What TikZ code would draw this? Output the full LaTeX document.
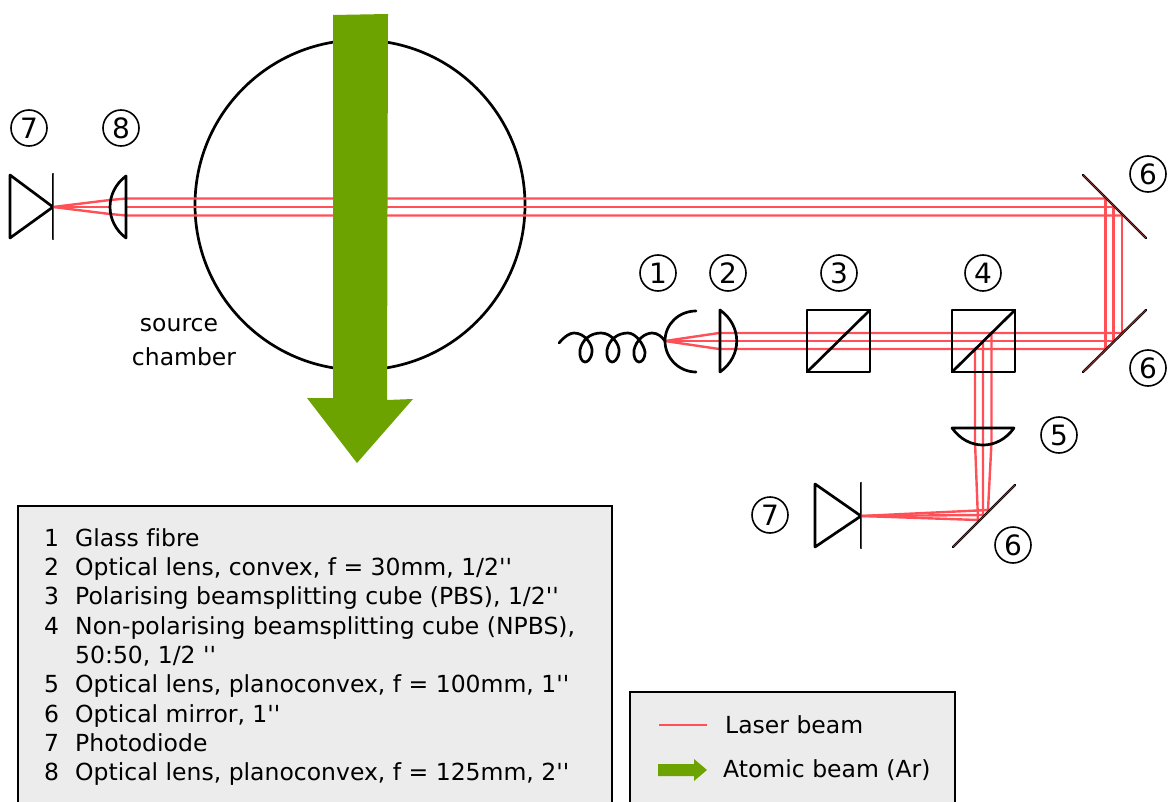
\documentclass[tikz,border=0pt]{standalone}
\usepackage{fontspec}
\setmainfont{DejaVu Sans}
\newfontfamily\plainfont[Ligatures=NoCommon]{DejaVu Sans}
\definecolor{panelgray}{HTML}{ECECEC}
\definecolor{atomgreen}{HTML}{6DA300}
\definecolor{beamred}{HTML}{FF5058}
\definecolor{mirrorbrown}{HTML}{8A3030}
\tikzset{
  x=1pt,y=-1pt,
  optic/.style={draw=black,line width=2.7pt,line join=round,line cap=round},
  beam/.style={draw=beamred,line width=2.4pt},
  mirrorline/.style={draw=black,line width=2.4pt,line cap=round},
  mirrorcore/.style={draw=mirrorbrown,line width=1pt},
  tag/.style={circle,draw=black,line width=1.6pt,minimum size=36pt,inner sep=0pt,font=\plainfont\fontsize{28}{30}\selectfont},
  lbl/.style={font=\plainfont\fontsize{23.5}{26}\selectfont,inner sep=0pt},
  item/.style={lbl,anchor=base west},
  panel/.style={draw=black,line width=2.4pt,fill=panelgray},
  green/.style={fill=atomgreen,draw=none}
}
\begin{document}
\begin{tikzpicture}
\useasboundingbox (0,0) rectangle (1169,802);
\clip (0,0) rectangle (1169,802);
% legend panels
\draw[panel] (18,506) rectangle (612,815);
\draw[panel] (630,692) rectangle (955,815);
% chamber
\draw[black,line width=2.7pt] (360,205) circle[radius=165];
% beams: upper run
\draw[beam] (110,200) -- (126,198.5) -- (1106,198.5);
\draw[beam] (126,207) -- (1114,207);
\draw[beam] (110,214) -- (126,215.5) -- (1122,215.5);
\draw[beam] (110,200) -- (53,207);
\draw[beam] (110,207) -- (53,207);
\draw[beam] (110,214) -- (53,207);
% beams: verticals between mirrors
\draw[beam] (1105.5,198.5) -- (1105.5,349);
\draw[beam] (1113.5,207) -- (1113.5,341);
\draw[beam] (1122,215.5) -- (1122,333);
% beams: lower run
\draw[beam] (665,341) -- (719,333) -- (1122,333);
\draw[beam] (665,341) -- (1114,341);
\draw[beam] (665,341) -- (719,349) -- (1106,349);
% beams: downward branch
\draw[beam] (991.5,333) -- (991.5,442) -- (988,510) -- (861,516);
\draw[beam] (983,341) -- (983,515) -- (861,516);
\draw[beam] (975,349) -- (975,442) -- (978,520) -- (861,516);
% atomic beam
\fill[green] (333,15) -- (388,14) -- (387,400) -- (413,399) -- (357,463) -- (307,398) -- (333,398) -- cycle;
% photodiodes
\draw[optic] (10,175) -- (10,238) -- (53,207) -- cycle;
\draw[mirrorline] (53,174) -- (53,239);
\draw[mirrorcore] (53,174) -- (53,239);
\draw[optic] (815,484) -- (815,547) -- (861,516) -- cycle;
\draw[mirrorline] (861,483) -- (861,548);
\draw[mirrorcore] (861,483) -- (861,548);
% lenses
\draw[optic] (126,176) -- (126,238) .. controls (104.7,222) and (104.7,192) .. (126,176);
\draw[optic] (720,310) -- (720,372) .. controls (742.3,356) and (742.3,326) .. (720,310);
\draw[optic] (952,428) -- (1014,428) .. controls (998,450.7) and (968,450.7) .. (952,428);
% fibre
\draw[optic] (696,311) .. controls (679,311) and (665,324) .. (665,341) .. controls (665,358) and (679,372) .. (696,372);
\draw[optic] (559,343) .. controls (565,336) and (570,333) .. (574,333)
  .. controls (585,333) and (593,345) .. (592,352) .. controls (591,360) and (587,362) .. (585,362)
  .. controls (582,362) and (579,357) .. (580,350) .. controls (582,340) and (590,333) .. (601,333)
  .. controls (612,333) and (620,345) .. (619,352) .. controls (618,360) and (614,362) .. (612,362)
  .. controls (609,362) and (606,357) .. (607,350) .. controls (609,340) and (617,333) .. (628,333)
  .. controls (636,333) and (644,345) .. (645,352) .. controls (645,360) and (641,362) .. (639,362)
  .. controls (636,362) and (633,357) .. (634,350) .. controls (636,340) and (645,333) .. (652,333)
  .. controls (658,333) and (662,337) .. (665,341);
% cubes
\draw[optic] (807,310) rectangle (870,372);
\draw[optic] (807,372) -- (870,310);
\draw[optic] (952,310) rectangle (1015,372);
\draw[optic] (952,372) -- (1015,310);
% mirrors
\foreach \a/\b in {{1083,175}/{1146,238},{1083,372}/{1146,310},{953,547}/{1015,485}}{
  \draw[mirrorline] (\a) -- (\b);
  \draw[mirrorcore] (\a) -- (\b);
}
% numbered tags
\node[tag] (t7a) at (29,128) {7};
\node[tag] (t8) at (121,128) {8};
\node[tag] (t1) at (658,273) {1};
\node[tag] (t2) at (728,273) {2};
\node[tag] (t3) at (839,273) {3};
\node[tag] (t4) at (983,273) {4};
\node[tag] (t6a) at (1148,174) {6};
\node[tag] (t6b) at (1148,368) {6};
\node[tag] (t5) at (1059,435) {5};
\node[tag] (t7b) at (770,515) {7};
\node[tag] (t6c) at (1013,545) {6};
% chamber label
\node[lbl] (src) at (179,325) {source};
\node[lbl] (chm) at (184,357) {chamber};
% parts list
\foreach \n/\i/\t/\b in {
  a/1/Glass fibre/546,
  b/2/{Optical lens, convex, f = 30mm, 1/2''}/575.5,
  c/3/{Polarising beamsplitting cube (PBS), 1/2''}/604.5,
  d/4/{Non-polarising beamsplitting cube (NPBS),}/634,
  f/5/{Optical lens, planoconvex, f = 100mm, 1''}/692.5,
  g/6/{Optical mirror, 1''}/722,
  h/7/Photodiode/751.5,
  i/8/{Optical lens, planoconvex, f = 125mm, 2''}/780.5}{
  \node[item] (num\n) at (44,\b) {\i};
  \node[item] (txt\n) at (75,\b) {\t};
}
\node[item] (txte) at (75,663) {50:50, 1/2 ''};
% legend
\draw[beam] (659,725) -- (707,725);
\node[item] (lasertxt) at (725,733) {Laser beam};
\fill[green] (658,764) -- (694,764) -- (694,759) -- (707,770) -- (694,781) -- (694,776) -- (658,776) -- cycle;
\node[item] (atomtxt) at (723,777) {Atomic beam (Ar)};
\end{tikzpicture}
\end{document}
